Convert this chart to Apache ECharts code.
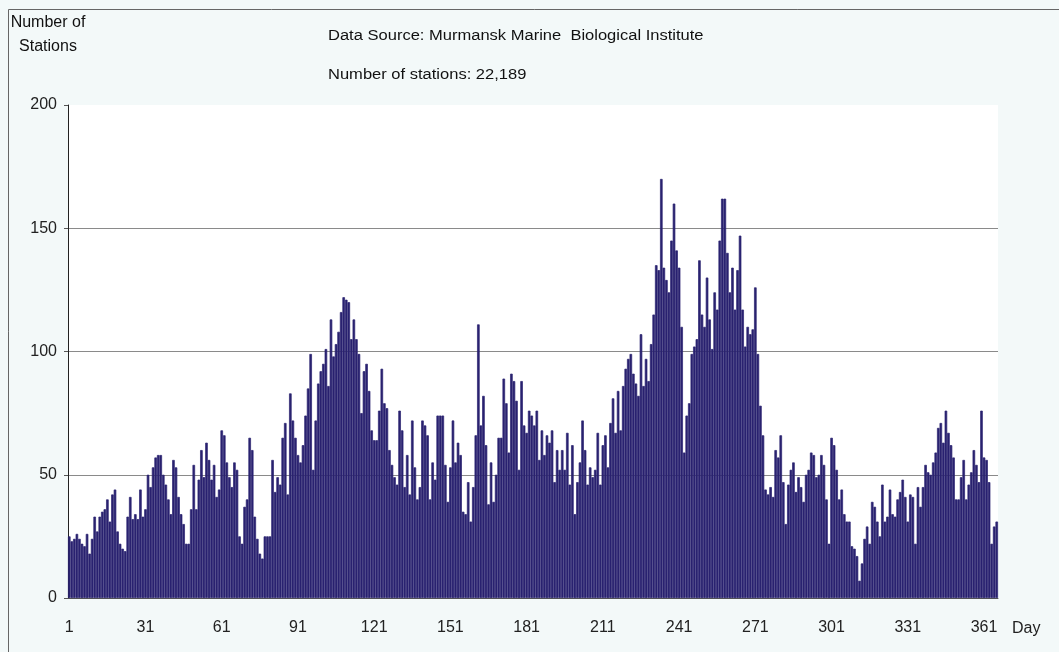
<!DOCTYPE html>
<html>
<head>
<meta charset="utf-8">
<script src="https://cdn.jsdelivr.net/npm/echarts@6/dist/echarts.min.js"></script>
<style>
html,body{margin:0;padding:0;background:#f3f9f9;}
#chart{width:1059px;height:652px;}
</style>
</head>
<body>
<div id="chart"></div>
<script>
// Number of stations per day of year
const days001to036 = [25,23,24,26,24,22,21,26,18,24,33,27,33,35,36,40,31,42,44,27,22,20,19,33,41,32,34,32,44,33,36,50,45,53,57,58];
const days037to073 = [58,50,46,40,34,56,53,41,34,30,22,22,36,54,36,48,60,49,63,56,48,54,41,44,68,66,55,49,45,55,52,25,22,37,40,65,60];
const days074to110 = [33,24,18,16,25,25,25,56,43,49,46,65,71,42,83,72,65,58,55,62,74,85,99,52,72,87,92,95,101,86,113,98,103,108,116,122,121];
const days111to147 = [120,105,113,105,99,75,92,95,84,68,64,64,76,93,79,77,60,54,49,46,76,68,45,58,42,72,53,40,45,72,70,66,40,55,48,74,74];
const days148to184 = [74,54,39,53,72,55,63,58,35,34,47,31,45,66,111,70,82,62,38,55,39,50,65,65,89,79,59,91,88,80,52,88,70,67,76,74,70];
const days185to221 = [76,56,68,58,66,63,68,47,60,52,60,52,67,46,62,34,47,55,72,60,46,53,49,52,67,46,62,66,53,71,81,67,84,68,86,93,97];
const days222to258 = [99,91,87,82,107,86,97,88,103,115,135,133,170,134,129,124,145,160,141,134,110,59,74,79,99,102,105,137,115,110,130,113,101,124,117,145,162];
const days259to295 = [162,140,124,134,117,133,147,117,102,110,107,109,126,99,78,66,44,42,45,41,60,57,66,47,30,46,52,55,43,49,45,39,50,52,59,58,49];
const days296to332 = [50,58,54,40,22,65,62,52,40,44,34,31,31,21,20,17,7,14,24,29,22,39,37,31,25,46,31,33,44,34,33,40,43,48,41,31,42];
const days333to366 = [41,22,45,37,45,54,51,50,55,59,69,71,63,76,67,62,57,40,40,49,56,40,46,51,60,54,47,76,57,56,47,22,29,31];

const stations = [].concat(days001to036, days037to073, days074to110, days111to147, days148to184,
  days185to221, days222to258, days259to295, days296to332, days333to366);
const dayCategories = stations.map((v, i) => String(i + 1));
const xTickLabels = ['1','31','61','91','121','151','181','211','241','271','301','331','361'];
const yTicks = [0, 50, 100, 150, 200];

const FONT = 'Liberation Sans, Arial, sans-serif';
const chart = echarts.init(document.getElementById('chart'), null, {renderer: 'canvas'});
chart.setOption({
  backgroundColor: '#f3f9f9',
  animation: false,
  grid: {left: 68, right: 61, top: 105, bottom: 54, show: true, backgroundColor: '#ffffff', borderWidth: 0},
  xAxis: {
    type: 'category',
    data: dayCategories,
    boundaryGap: true,
    axisLine: {lineStyle: {color: '#555', width: 1}},
    axisTick: {alignWithLabel: true, length: 5, lineStyle: {color: '#777'},
      interval: (i, v) => xTickLabels.indexOf(v) >= 0},
    axisLabel: {
      interval: (i, v) => xTickLabels.indexOf(v) >= 0,
      color: '#222', fontFamily: FONT, fontSize: 16, margin: 22
    },
    splitLine: {show: false}
  },
  yAxis: {
    type: 'value',
    min: yTicks[0], max: yTicks[yTicks.length - 1], interval: 50,
    axisLine: {show: true, lineStyle: {color: '#222', width: 1}},
    axisTick: {show: true, length: 4, lineStyle: {color: '#555'}},
    axisLabel: {color: '#222', fontFamily: FONT, fontSize: 16, margin: 11},
    splitLine: {show: true, lineStyle: {color: ['#8a8a8a','#8a8a8a','#8a8a8a','#8a8a8a','rgba(0,0,0,0)'], width: 1}}
  },
  series: [{
    type: 'bar',
    data: stations,
    barCategoryGap: '0%',
    itemStyle: {color: '#2a2270', borderColor: '#2a2270', borderWidth: 0.7},
    emphasis: {disabled: true}
  }],
  graphic: [
    {type: 'rect', shape: {x: 8.5, y: 9.5, width: 1060, height: 650}, style: {fill: 'none', stroke: '#666', lineWidth: 1}, silent: true},
    {type: 'text', x: 48, y: 23, style: {text: 'Number of', font: '16px ' + FONT, fill: '#111', align: 'center', verticalAlign: 'middle'}},
    {type: 'text', x: 48, y: 47, style: {text: 'Stations', font: '16px ' + FONT, fill: '#111', align: 'center', verticalAlign: 'middle'}},
    {type: 'text', x: 328, y: 36, scaleX: 1.18, style: {text: 'Data Source: Murmansk Marine  Biological Institute', font: '14px ' + FONT, fill: '#111', verticalAlign: 'middle'}},
    {type: 'text', x: 328, y: 75, scaleX: 1.18, style: {text: 'Number of stations: 22,189', font: '14px ' + FONT, fill: '#111', verticalAlign: 'middle'}},
    {type: 'text', x: 1012, y: 629, style: {text: 'Day', font: '16px ' + FONT, fill: '#222', verticalAlign: 'middle'}}
  ]
});
</script>
</body>
</html>
